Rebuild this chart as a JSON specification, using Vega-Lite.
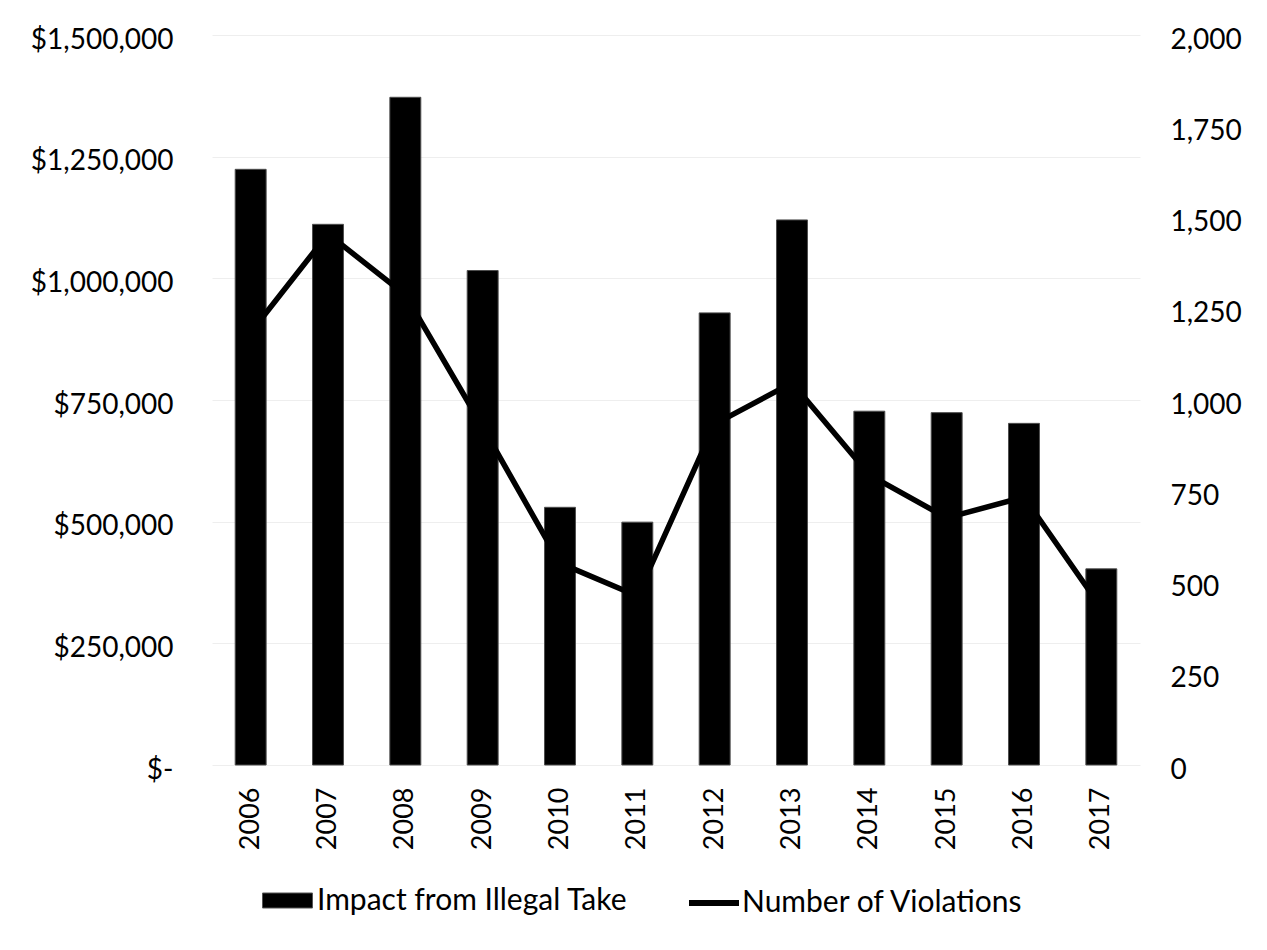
{
  "$schema": "https://vega.github.io/schema/vega-lite/v6.json",
  "autosize": "none",
  "width": 928,
  "height": 730,
  "padding": {"left": 212, "top": 35, "right": 127, "bottom": 185},
  "background": "white",
  "config": {
    "font": "Lato",
    "view": {"stroke": null},
    "axis": {"labelFont": "Lato", "labelFontSize": 28, "labelColor": "#000000", "domain": false, "ticks": false, "title": null}
  },
  "data": {
    "values": [
      {"year": "2006", "impact": 1224000, "violations": 1185},
      {"year": "2007", "impact": 1111000, "violations": 1455},
      {"year": "2008", "impact": 1372000, "violations": 1288},
      {"year": "2009", "impact": 1016000, "violations": 926},
      {"year": "2010", "impact": 529500, "violations": 553},
      {"year": "2011", "impact": 499000, "violations": 463},
      {"year": "2012", "impact": 929000, "violations": 934},
      {"year": "2013", "impact": 1120000, "violations": 1047},
      {"year": "2014", "impact": 727000, "violations": 795},
      {"year": "2015", "impact": 724000, "violations": 677},
      {"year": "2016", "impact": 702000, "violations": 734},
      {"year": "2017", "impact": 403000, "violations": 430}
    ]
  },
  "encoding": {
    "x": {
      "field": "year",
      "type": "ordinal",
      "scale": {"paddingInner": 0.6, "paddingOuter": 0.3},
      "axis": {"labelAngle": -90, "labelPadding": 22, "labelFontSize": 27, "grid": false}
    }
  },
  "layer": [
    {
      "mark": {"type": "bar", "stroke": "#4d4d4d", "strokeWidth": 1},
      "encoding": {
        "y": {
          "field": "impact",
          "type": "quantitative",
          "scale": {"domain": [0, 1500000]},
          "axis": {
            "values": [0, 250000, 500000, 750000, 1000000, 1250000, 1500000],
            "labelExpr": "datum.value == 0 ? '$-' : '$' + format(datum.value, ',')",
            "labelPadding": 39,
            "labelOffset": 5,
            "grid": true,
            "gridColor": "#eeeeee",
            "gridWidth": 1,
            "orient": "left"
          }
        },
        "fill": {
          "datum": "Impact from Illegal Take",
          "scale": {"range": ["#000000"]},
          "legend": {
            "orient": "none",
            "legendX": 50,
            "legendY": 840,
            "title": null,
            "labelFontSize": 30,
            "labelFont": "Lato",
            "labelColor": "#000000",
            "labelLimit": 0,
            "symbolType": "M-1,-0.3L1,-0.3L1,0.3L-1,0.3Z",
            "symbolSize": 2500,
            "symbolFillColor": "#111111",
            "symbolStrokeColor": "#555555",
            "symbolStrokeWidth": 1,
            "labelOffset": 4
          }
        }
      }
    },
    {
      "mark": {"type": "line", "strokeWidth": 5.5, "strokeCap": "round", "strokeJoin": "round"},
      "encoding": {
        "y": {
          "field": "violations",
          "type": "quantitative",
          "scale": {"domain": [0, 2000]},
          "axis": {
            "values": [0, 250, 500, 750, 1000, 1250, 1500, 1750, 2000],
            "format": ",.0f",
            "orient": "right",
            "labelPadding": 30,
            "labelOffset": 5,
            "grid": false
          }
        },
        "stroke": {
          "datum": "Number of Violations",
          "scale": {"range": ["#000000"]},
          "legend": {
            "orient": "none",
            "legendX": 474,
            "legendY": 840,
            "title": null,
            "labelFontSize": 30,
            "labelFont": "Lato",
            "labelColor": "#000000",
            "labelLimit": 0,
            "symbolType": "stroke",
            "symbolSize": 2500,
            "symbolStrokeWidth": 6,
            "labelOffset": 0
          }
        }
      }
    }
  ],
  "resolve": {"scale": {"y": "independent", "fill": "independent", "stroke": "independent"}}
}
